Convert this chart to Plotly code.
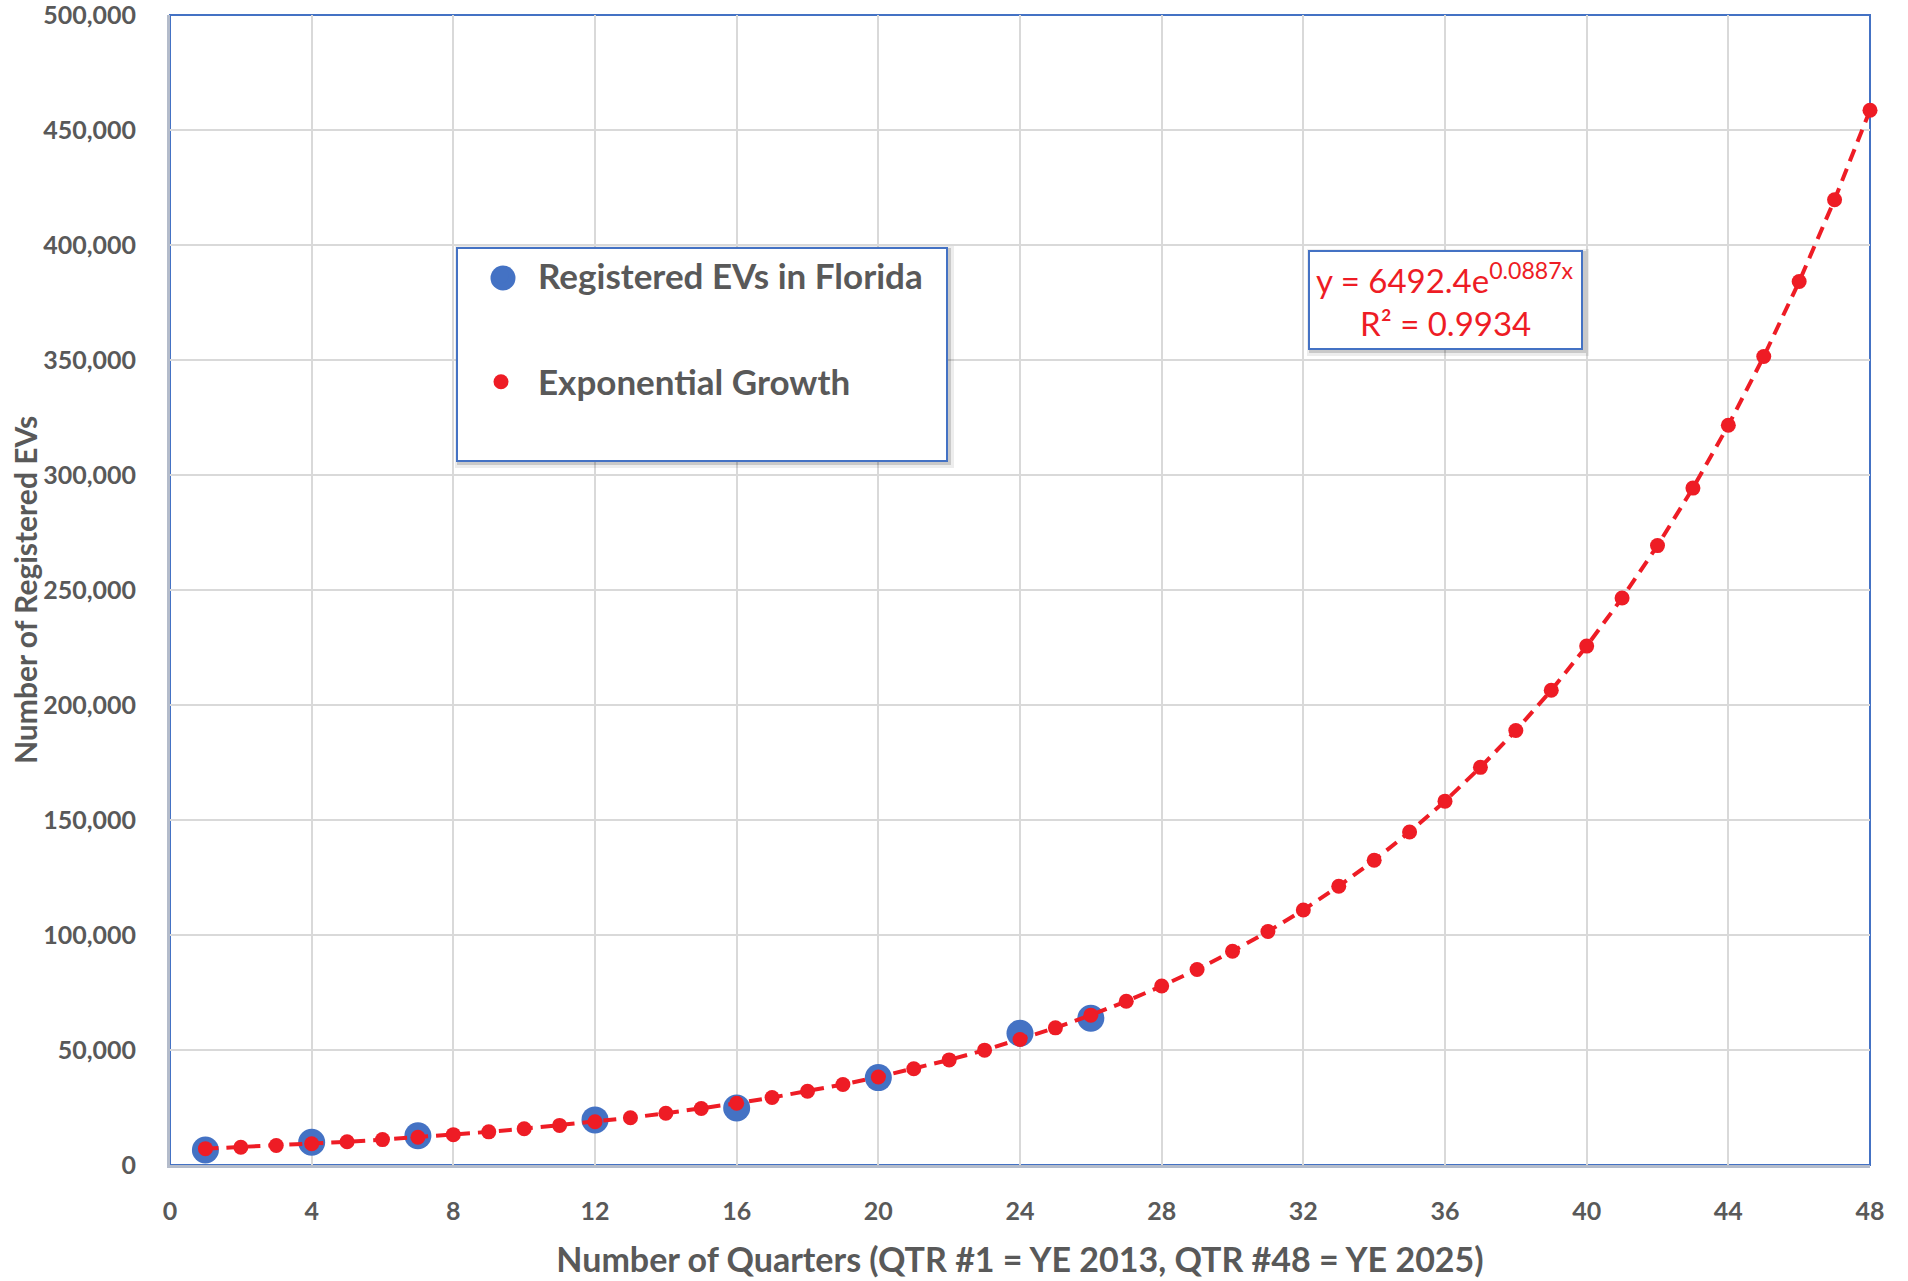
import plotly.graph_objects as go

# Observed registered EVs (quarter number, count)
obs_quarters = [1, 4, 7, 12, 16, 20, 24, 26]
obs_evs = [6500, 9900, 12700, 19600, 24800, 38000, 57300, 63800]

# Exponential growth projection (quarters 1..48)
fit_quarters = list(range(1, 49))
fit_evs = [7100, 7750, 8470, 9260, 10100, 11050, 12080, 13200, 14420, 15760,
           17220, 18820, 20570, 22480, 24560, 26840, 29330, 32050, 35020, 38270,
           41820, 45700, 49930, 54570, 59630, 65160, 71200, 77800, 85020, 92910,
           101500, 110900, 121200, 132500, 144800, 158200, 172900, 188900, 206400, 225600,
           246500, 269300, 294300, 321600, 351500, 384100, 419700, 458600]

x_ticks = list(range(0, 49, 4))
y_ticks = list(range(0, 500001, 50000))

BLUE = "#4472C4"
RED = "#EE1C25"
GRAY_TXT = "#595959"
GRID = "#D9D9D9"
AXIS = "#B4BCCB"
FONT = "Lato"

W, H = 1908, 1281
L, R, T, B = 170, 38, 15, 116
PW, PH = W - L - R, H - T - B

def px(xp):
    return (xp - L) / PW

def py(yp):
    return (H - B - yp) / PH

fig = go.Figure()
fig.add_trace(go.Scatter(
    x=obs_quarters, y=obs_evs, mode="markers", name="Registered EVs in Florida",
    legendgroup="a",
    marker=dict(color=BLUE, size=27, line=dict(width=0)), cliponaxis=False))
fig.add_trace(go.Scatter(
    x=fit_quarters, y=fit_evs, mode="lines", name="Exponential Growth trend",
    showlegend=False, hoverinfo="skip",
    line=dict(color=RED, width=4, dash="13px,8px"), cliponaxis=False))
fig.add_trace(go.Scatter(
    x=fit_quarters, y=fit_evs, mode="markers", name="Exponential Growth",
    legendgroup="b",
    marker=dict(color=RED, size=15, line=dict(width=0)), cliponaxis=False))

shapes = []
# legend box with shadow
lb = (457, 248, 947, 461)
shapes.append(dict(type="rect", xref="paper", yref="paper", layer="above",
                   x0=px(lb[0] - 2), x1=px(lb[2] + 7), y0=py(lb[3] + 7), y1=py(lb[1] - 2),
                   fillcolor="rgba(0,0,0,0.07)", line=dict(width=0)))
shapes.append(dict(type="rect", xref="paper", yref="paper", layer="above",
                   x0=px(lb[0]), x1=px(lb[2] + 4), y0=py(lb[3] + 4), y1=py(lb[1]),
                   fillcolor="rgba(0,0,0,0.15)", line=dict(width=0)))
shapes.append(dict(type="rect", xref="paper", yref="paper", layer="above",
                   x0=px(lb[0]), x1=px(lb[2]), y0=py(lb[3]), y1=py(lb[1]),
                   fillcolor="white", line=dict(color=BLUE, width=2)))
# larger legend symbol backdrop for the observed series (legend caps symbol size)
shapes.append(dict(type="circle", xref="paper", yref="paper", layer="above",
                   x0=px(503 - 12.5), x1=px(503 + 12.5), y0=py(278 + 12.5), y1=py(278 - 12.5),
                   fillcolor=BLUE, line=dict(width=0)))
# equation box with shadow
eb = (1309, 251, 1582, 349)
shapes.append(dict(type="rect", xref="paper", yref="paper", layer="above",
                   x0=px(eb[0] - 2), x1=px(eb[2] + 7), y0=py(eb[3] + 7), y1=py(eb[1] - 2),
                   fillcolor="rgba(0,0,0,0.07)", line=dict(width=0)))
shapes.append(dict(type="rect", xref="paper", yref="paper", layer="above",
                   x0=px(eb[0]), x1=px(eb[2] + 4), y0=py(eb[3] + 4), y1=py(eb[1]),
                   fillcolor="rgba(0,0,0,0.15)", line=dict(width=0)))
shapes.append(dict(type="rect", xref="paper", yref="paper", layer="above",
                   x0=px(eb[0]), x1=px(eb[2]), y0=py(eb[3]), y1=py(eb[1]),
                   fillcolor="white", line=dict(color=BLUE, width=2)))
# plot area border (top/right blue)
shapes.append(dict(type="rect", xref="paper", yref="paper", layer="below",
                   x0=0, x1=1, y0=0, y1=1, line=dict(color=BLUE, width=2)))

annotations = [
    dict(xref="paper", yref="paper", x=px(1445), y=py(278), xanchor="center", yanchor="middle",
         text="y = 6492.4e<sup>0.0887x</sup>", showarrow=False,
         font=dict(family=FONT, size=33, color=RED)),
    dict(xref="paper", yref="paper", x=px(1445), y=py(323), xanchor="center", yanchor="middle",
         text="R² = 0.9934", showarrow=False,
         font=dict(family=FONT, size=33, color=RED)),
    # y-axis title
    dict(xref="paper", yref="paper", x=px(25), y=py(590), xanchor="center", yanchor="middle",
         text="Number of Registered EVs", textangle=-90, showarrow=False,
         font=dict(family=FONT, size=30, color=GRAY_TXT, weight="bold")),
]

fig.update_layout(
    width=W, height=H, autosize=False,
    margin=dict(l=L, r=R, t=T, b=B, pad=0, autoexpand=False),
    paper_bgcolor="white", plot_bgcolor="white",
    font=dict(family=FONT, color=GRAY_TXT),
    showlegend=True,
    legend=dict(x=px(464), y=py(246), xanchor="left", yanchor="top",
                bgcolor="rgba(0,0,0,0)", borderwidth=0,
                font=dict(family=FONT, size=35, color=GRAY_TXT, weight="bold"),
                traceorder="grouped", tracegroupgap=58, itemwidth=64,
                itemsizing="trace"),
    shapes=shapes, annotations=annotations,
    xaxis=dict(range=[0, 48], tickvals=x_ticks, ticktext=[str(v) for v in x_ticks],
               automargin=False,
               showgrid=True, gridcolor=GRID, gridwidth=2,
               showline=True, linecolor=AXIS, linewidth=3, ticks="", zeroline=False,
               tickfont=dict(family=FONT, size=25, color=GRAY_TXT, weight="bold"),
               ticklabelstandoff=22,
               title=dict(text="Number of Quarters (QTR #1 = YE 2013, QTR #48 = YE 2025)",
                          font=dict(family=FONT, size=34, color=GRAY_TXT, weight="bold"),
                          standoff=25)),
    yaxis=dict(range=[0, 500000], tickvals=y_ticks, tickformat=",",
               automargin=False,
               showgrid=True, gridcolor=GRID, gridwidth=2,
               showline=True, linecolor=AXIS, linewidth=3, ticks="", zeroline=False,
               tickfont=dict(family=FONT, size=25, color=GRAY_TXT, weight="bold"),
               ticklabelstandoff=26, ticklabeloverflow="allow"),
)

fig.write_html("out.html", config={"displayModeBar": False},
               post_script="document.body.style.margin='0px';")
